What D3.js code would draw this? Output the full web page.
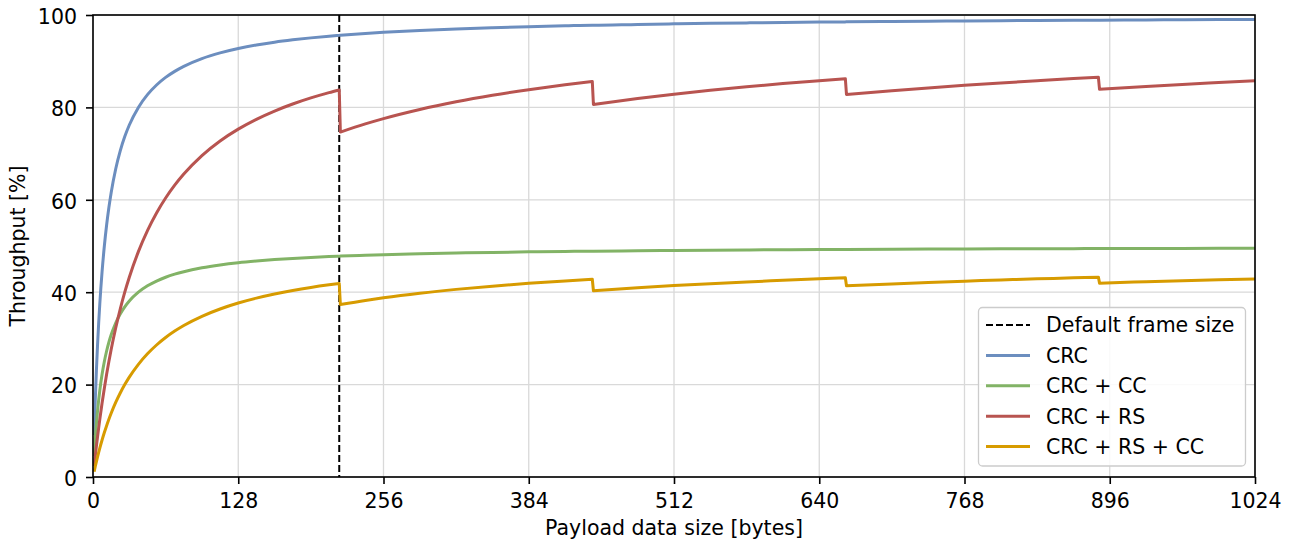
<!DOCTYPE html>
<html>
<head>
<meta charset="utf-8">
<script src="https://cdn.jsdelivr.net/npm/d3@7/dist/d3.min.js"></script>
<style>
  html, body { margin: 0; padding: 0; background: #fff; }
  svg { display: block; font-family: "DejaVu Sans", sans-serif; }
</style>
</head>
<body>
<svg id="chart" width="1293" height="542"></svg>
<script>
// ---- data ----
const payload = [1,2,3,4,5,6,8,10,12,14,16,20,24,28,32,40,48,56,64,72,80,96,112,128,144,160,176,192,208,217,
  218,240,256,288,320,352,384,416,440,
  441,480,512,544,576,608,640,663,
  664,704,736,768,800,832,864,886,
  887,928,960,992,1024];

const crc = [9.09,16.67,23.08,28.57,33.33,37.5,44.44,50,54.55,58.33,61.54,66.67,70.59,73.68,76.19,80,82.76,84.85,86.49,87.80,88.89,90.57,91.80,92.75,93.51,94.12,94.62,95.05,95.41,95.59,
  95.61,96.0,96.24,96.64,96.97,97.24,97.46,97.65,97.78,
  97.78,97.96,98.08,98.19,98.29,98.38,98.46,98.51,
  98.52,98.60,98.66,98.71,98.77,98.81,98.86,98.88,
  98.89,98.93,98.97,99.0,99.03];

const crcCC = [4.55,8.33,11.54,14.29,16.67,18.75,22.22,25,27.27,29.17,30.77,33.33,35.29,36.84,38.10,40,41.38,42.42,43.24,43.90,44.44,45.28,45.90,46.38,46.75,47.06,47.31,47.52,47.71,47.80,
  47.81,48.0,48.12,48.32,48.48,48.62,48.73,48.82,48.89,
  48.89,48.98,49.04,49.10,49.15,49.19,49.23,49.26,
  49.26,49.30,49.33,49.36,49.38,49.41,49.43,49.44,
  49.44,49.47,49.48,49.50,49.52];

const crcRS = [2.33,4.55,6.67,8.70,10.64,12.5,16.0,19.23,22.22,25.0,27.59,32.26,36.36,40.0,43.24,48.78,53.33,57.14,60.38,63.16,65.57,69.57,72.73,75.29,77.42,79.21,80.73,82.05,83.2,83.78,
  74.66,76.43,77.58,79.56,81.22,82.63,83.84,84.90,85.60,
  80.62,81.91,82.85,83.69,84.46,85.15,85.79,86.22,
  82.79,83.61,84.21,84.77,85.29,85.77,86.23,86.52,
  83.92,84.52,84.96,85.37,85.76];

const crcRSCC = [1.16,2.27,3.33,4.35,5.32,6.25,8.0,9.62,11.11,12.5,13.79,16.13,18.18,20.0,21.62,24.39,26.67,28.57,30.19,31.58,32.79,34.78,36.36,37.65,38.71,39.60,40.37,41.03,41.6,41.89,
  37.33,38.22,38.79,39.78,40.61,41.31,41.92,42.45,42.80,
  40.31,40.96,41.43,41.85,42.23,42.57,42.89,43.11,
  41.39,41.80,42.11,42.39,42.64,42.89,43.11,43.26,
  41.96,42.26,42.48,42.69,42.88];

const defaultFrameSize = 217;
const xTicks = [0,128,256,384,512,640,768,896,1024];
const yTicks = [0,20,40,60,80,100];
const seriesNames = ["CRC", "CRC + CC", "CRC + RS", "CRC + RS + CC"];
const seriesColors = ["#6c8ebf", "#82b366", "#b85450", "#d79b00"];
const seriesValues = [crc, crcCC, crcRS, crcRSCC];
const legendDashedLabel = "Default frame size";

// ---- layout ----
const svg = d3.select("#chart");
const pL = 93, pR = 1255, pT = 15, pB = 477;
const fontSize = 20.5;

const x = d3.scaleLinear().domain([0, 1024]).range([pL, pR]);
const y = d3.scaleLinear().domain([0, 100]).range([pB, pT]);

// grid
const grid = svg.append("g");
grid.selectAll("line.vx").data(xTicks).join("line").attr("class", "vx")
  .attr("x1", d => x(d)).attr("x2", d => x(d))
  .attr("y1", pT).attr("y2", pB)
  .attr("stroke", "#d9d9d9").attr("stroke-width", 1.3);
grid.selectAll("line.hy").data(yTicks).join("line").attr("class", "hy")
  .attr("x1", pL).attr("x2", pR)
  .attr("y1", d => y(d)).attr("y2", d => y(d))
  .attr("stroke", "#d9d9d9").attr("stroke-width", 1.3);

// clip
svg.append("clipPath").attr("id", "clip").append("rect")
  .attr("x", pL).attr("y", pT).attr("width", pR - pL).attr("height", pB - pT);

// dashed vertical line
svg.append("line")
  .attr("x1", x(defaultFrameSize)).attr("x2", x(defaultFrameSize))
  .attr("y1", pT).attr("y2", pB)
  .attr("stroke", "#000").attr("stroke-width", 2)
  .attr("stroke-dasharray", "7,3");

// series lines: smooth within each block segment, straight across the drops
const segLine = d3.line()
  .x(d => x(d[0]))
  .y(d => y(d[1]))
  .curve(d3.curveMonotoneX);

function seriesPath(vals) {
  const segments = [];
  let cur = [];
  payload.forEach((p, i) => {
    if (i > 0 && vals[i] < vals[i - 1]) {
      segments.push(cur);
      cur = [];
    }
    cur.push([p, vals[i]]);
  });
  segments.push(cur);
  return segments.map((s, k) => {
    const d = segLine(s);
    return k === 0 ? d : "L" + d.slice(1);
  }).join("");
}

const plot = svg.append("g").attr("clip-path", "url(#clip)");
seriesValues.forEach((vals, k) => {
  plot.append("path")
    .attr("d", seriesPath(vals))
    .attr("fill", "none")
    .attr("stroke", seriesColors[k])
    .attr("stroke-width", 3)
    .attr("stroke-linejoin", "round");
});

// axes
const xAxis = svg.append("g").attr("transform", `translate(0,${pB})`)
  .call(d3.axisBottom(x).tickValues(xTicks).tickFormat(d3.format("d")).tickSize(7).tickPadding(9).tickSizeOuter(0));
const yAxis = svg.append("g").attr("transform", `translate(${pL},0)`)
  .call(d3.axisLeft(y).tickValues(yTicks).tickFormat(d3.format("d")).tickSize(7).tickPadding(9).tickSizeOuter(0));
[xAxis, yAxis].forEach(g => {
  g.select(".domain").remove();
  g.selectAll(".tick line").attr("stroke", "#000").attr("stroke-width", 1.6);
  g.selectAll(".tick text").attr("fill", "#000")
    .style("font-family", "DejaVu Sans").style("font-size", fontSize + "px");
});
yAxis.selectAll(".tick text").attr("dy", "0.4em");

// frame
svg.append("rect")
  .attr("x", pL).attr("y", pT).attr("width", pR - pL).attr("height", pB - pT)
  .attr("fill", "none").attr("stroke", "#000").attr("stroke-width", 1.6);

// axis labels
svg.append("text")
  .attr("x", (pL + pR) / 2).attr("y", 535)
  .attr("text-anchor", "middle")
  .style("font-size", fontSize + "px")
  .text("Payload data size [bytes]");
svg.append("text")
  .attr("transform", `translate(25,${(pT + pB) / 2}) rotate(-90)`)
  .attr("text-anchor", "middle")
  .style("font-size", fontSize + "px")
  .text("Throughput [%]");

// legend
const lg = svg.append("g");
lg.append("rect")
  .attr("x", 978.5).attr("y", 307.5).attr("width", 267).attr("height", 158.5)
  .attr("rx", 4).attr("ry", 4)
  .attr("fill", "rgba(255,255,255,0.85)").attr("stroke", "#cccccc").attr("stroke-width", 1.3);
const legendItems = [{label: legendDashedLabel, color: "#000", dashed: true}]
  .concat(seriesNames.map((n, i) => ({label: n, color: seriesColors[i], dashed: false})));
legendItems.forEach((it, i) => {
  const cy = 325 + i * 30.4;
  lg.append("line")
    .attr("x1", 986).attr("x2", 1030).attr("y1", cy).attr("y2", cy)
    .attr("stroke", it.color).attr("stroke-width", it.dashed ? 2 : 3)
    .attr("stroke-dasharray", it.dashed ? "7,3" : null);
  lg.append("text")
    .attr("x", 1046).attr("y", cy).attr("dy", "0.36em")
    .style("font-size", fontSize + "px")
    .text(it.label);
});
</script>
</body>
</html>
